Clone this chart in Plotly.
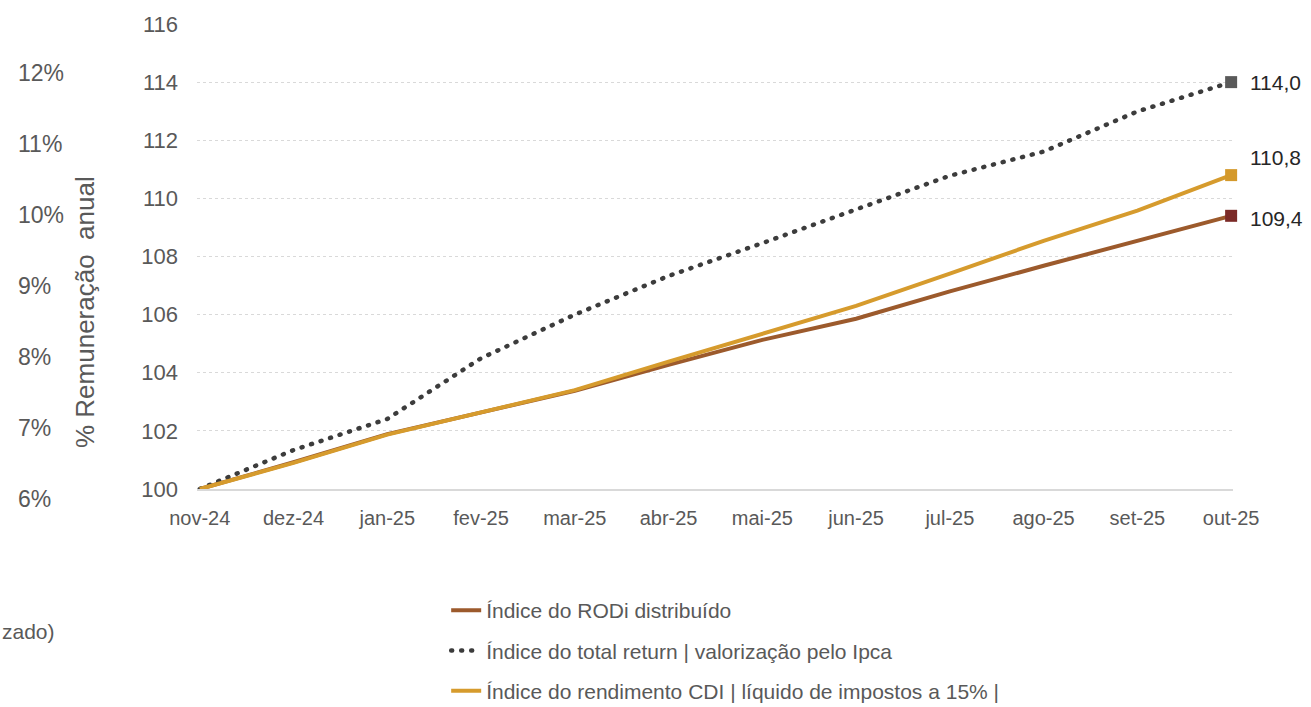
import plotly.graph_objects as go

months = ["nov-24", "dez-24", "jan-25", "fev-25", "mar-25", "abr-25",
          "mai-25", "jun-25", "jul-25", "ago-25", "set-25", "out-25"]
rodi = [100.0, 100.92, 101.89, 102.64, 103.38, 104.27, 105.13, 105.86, 106.80, 107.68, 108.55, 109.4]
total_return = [100.0, 101.34, 102.41, 104.50, 106.00, 107.33, 108.46, 109.62, 110.78, 111.61, 112.99, 114.0]
cdi = [100.0, 100.90, 101.87, 102.63, 103.40, 104.38, 105.34, 106.30, 107.41, 108.54, 109.58, 110.8]

name_rodi = "Índice do RODi distribuído"
name_tr = "Índice do total return | valorização pelo Ipca"
name_cdi = "Índice do rendimento CDI | líquido de impostos a 15% |"

left_ticks = [6, 7, 8, 9, 10, 11, 12]
left_labels = ["6%", "7%", "8%", "9%", "10%", "11%", "12%"]
y_ticks = [100, 102, 104, 106, 108, 110, 112, 114, 116]

C_RODI = "#9C5A2C"
C_CDI = "#D69B2D"
C_TR = "#3C3C3C"
M_RODI = "#7B2A27"
M_CDI = "#D4992B"
M_TR = "#5A5A5A"

FONT = "Liberation Sans, Arial, sans-serif"
GREY = "#595959"

fig = go.Figure()
fig.add_trace(go.Scatter(x=months, y=rodi, name=name_rodi, mode="lines",
                         line=dict(color=C_RODI, width=4), legendgroup="a"))
fig.add_trace(go.Scatter(x=months, y=total_return, name=name_tr, mode="lines",
                         line=dict(color=C_TR, width=4.5, dash="1px,9px"), legendgroup="b"))
fig.add_trace(go.Scatter(x=months, y=cdi, name=name_cdi, mode="lines",
                         line=dict(color=C_CDI, width=4), legendgroup="c"))

# end markers
for series, mc in [(rodi, M_RODI), (total_return, M_TR), (cdi, M_CDI)]:
    fig.add_trace(go.Scatter(x=[months[-1]], y=[series[-1]], mode="markers",
                             marker=dict(symbol="square", size=12, color=mc),
                             showlegend=False, hoverinfo="skip", cliponaxis=False))

# dummy trace for the left percentage axis
fig.add_trace(go.Scatter(x=[0], y=[left_ticks[0]], xaxis="x2", yaxis="y2", mode="markers",
                         marker=dict(opacity=0), showlegend=False, hoverinfo="skip"))

# end labels
def fmt(v):
    return f"{v:.1f}".replace(".", ",")

for series, ys in [(total_return, 0), (cdi, 18), (rodi, -3)]:
    fig.add_annotation(x=months[-1], y=series[-1], text=fmt(series[-1]), showarrow=False,
                       xanchor="left", yanchor="middle", xshift=17, yshift=ys,
                       font=dict(family=FONT, size=21, color="#262626"))

# left axis title
fig.add_annotation(x=0.0575, y=0.4062, xref="paper", yref="paper", text="% Remuneração  anual",
                   xanchor="center", yanchor="middle",
                   textangle=-90, showarrow=False, font=dict(family=FONT, size=26, color=GREY))
# cut-off text at left
fig.add_annotation(x=-0.0125, y=-0.2536, xref="paper", yref="paper", text="zado)",
                   xanchor="left", yanchor="middle", showarrow=False,
                   font=dict(family=FONT, size=21, color=GREY))

fig.update_layout(
    width=1311, height=707,
    margin=dict(l=15, r=78, t=24, b=198, autoexpand=False),
    paper_bgcolor="white", plot_bgcolor="white",
    font=dict(family=FONT, color=GREY),
    xaxis=dict(type="category", range=[-0.03, 11.02], domain=[0.1494, 1],
               showgrid=False, showline=True, linecolor="#D9D9D9", linewidth=2,
               ticks="", tickfont=dict(size=20, color=GREY), ticklabelstandoff=10,
               zeroline=False, automargin=False),
    yaxis=dict(range=[100, 116], domain=[0.04124, 1], tickvals=y_ticks, showgrid=True,
               gridcolor="#D9D9D9", griddash="dot", gridwidth=1, zeroline=False,
               showline=False, ticks="", tickfont=dict(size=22, color=GREY),
               ticklabelstandoff=18, automargin=False),
    xaxis2=dict(domain=[0, 0.05], range=[0, 1], anchor="y2", visible=False),
    yaxis2=dict(anchor="x2", side="left", domain=[0, 1],
                range=[5.859, 12.69], tickvals=left_ticks, ticktext=left_labels,
                ticklabelposition="inside", ticklabeloverflow="allow",
                showgrid=False, zeroline=False, showline=False, ticks="",
                tickfont=dict(size=23, color=GREY), automargin=False),
    legend=dict(x=0.354, y=-0.167, xanchor="left", yanchor="top",
                traceorder="grouped", tracegroupgap=10,
                font=dict(family=FONT, size=21, color=GREY), bgcolor="rgba(0,0,0,0)"),
    showlegend=True,
)

post = """
var gd = document.getElementById('{plot_id}');
function fixCaps(){
  gd.querySelectorAll('path').forEach(function(p){
    var d = p.style.strokeDasharray || '';
    if (d.indexOf('1px') === 0) { p.style.strokeLinecap = 'round'; }
  });
}
fixCaps();
gd.on('plotly_afterplot', fixCaps);
"""

fig.write_html("out.html", post_script=post)
